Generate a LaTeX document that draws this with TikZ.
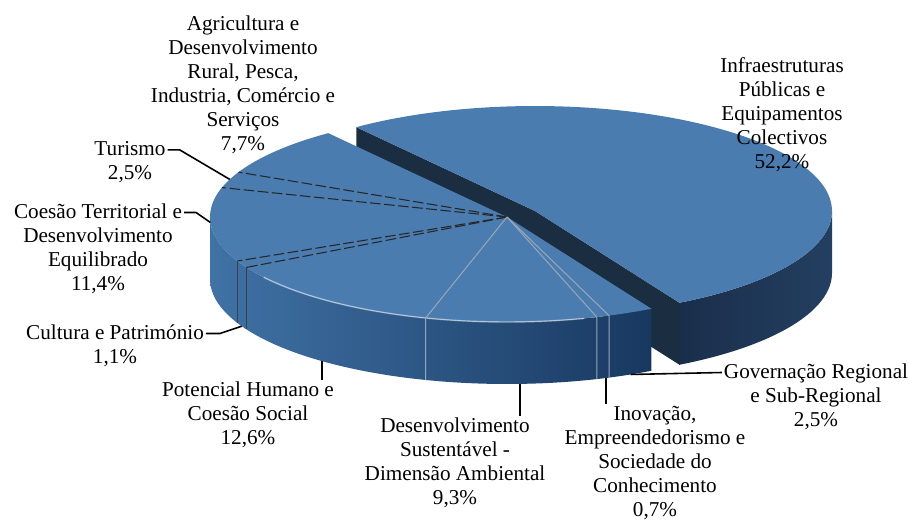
\documentclass[tikz,border=0pt]{standalone}
\usepackage{fontspec}
\setmainfont{Liberation Serif}
\usetikzlibrary{calc}

\definecolor{topblue}{RGB}{74,124,176}
\definecolor{sidelight}{RGB}{64,114,166}
\definecolor{sidedark}{RGB}{24,56,96}
\definecolor{bigside}{RGB}{26,46,74}
\definecolor{cutface}{RGB}{27,45,64}
\definecolor{seam}{RGB}{150,166,182}

\tikzset{
  lbl/.style={align=center, inner sep=1pt, font=\fontsize{12}{13.6}\selectfont},
  leader/.style={draw, line width=0.9pt},
  seamdash/.style={dash pattern=on 6pt off 2pt, line width=0.6pt, black!85},
  seamline/.style={seam, line width=0.6pt},
}

\begin{document}
\begin{tikzpicture}[x=0.5666pt, y=-0.5666pt]
\useasboundingbox (0,0) rectangle (909,523);
\def\cx{507}\def\cy{217}\def\rx{297}\def\ry{105}\def\h{62}
\def\ox{28}\def\oy{-6}

%centres of the two pieces
\coordinate (apex) at (\cx,\cy);
\coordinate (apexb) at (\cx+\ox,\cy+\oy);
\coordinate (bigul) at ({\cx+\ox+\rx*cos(127)},{\cy+\oy-\ry*sin(127)});
\coordinate (biglr) at ({\cx+\ox+\rx*cos(299.1)},{\cy+\oy-\ry*sin(299.1)});

%exploded slice: side, cut faces, top
\shade[left color=bigside, right color=bigside!75!sidelight]
  plot[domain=299.1:360, samples=40] ({\cx+\ox+\rx*cos(\x)},{\cy+\oy-\ry*sin(\x)})
  -- plot[domain=360:299.1, samples=40] ({\cx+\ox+\rx*cos(\x)},{\cy+\oy+\h-\ry*sin(\x)}) -- cycle;
\fill[cutface] (bigul) -- (apexb) -- (biglr) -- ++(0,\h) -- ($(apexb)+(0,\h)$) -- ($(bigul)+(0,\h)$) -- cycle;
\fill[topblue] (apexb) -- plot[domain=299.1:487, samples=100] ({\cx+\ox+\rx*cos(\x)},{\cy+\oy-\ry*sin(\x)}) -- cycle;

%small slices: side and top
\shade[left color=sidelight, right color=sidedark]
  plot[domain=180:299.1, samples=60] ({\cx+\rx*cos(\x)},{\cy-\ry*sin(\x)})
  -- plot[domain=299.1:180, samples=60] ({\cx+\rx*cos(\x)},{\cy+\h-\ry*sin(\x)}) -- cycle;
\fill[topblue] (apex) -- plot[domain=127:299.1, samples=100] ({\cx+\rx*cos(\x)},{\cy-\ry*sin(\x)}) -- cycle;
\draw[white, opacity=0.5, line width=0.8pt] plot[domain=215:285, samples=40] ({\cx+\rx*cos(\x)},{\cy-\ry*sin(\x)});

%seams between slices
\foreach \a in {154.7,163.7,204.8,208.7}
  \draw[seamdash] (apex) -- ({\cx+\rx*cos(\a)},{\cy-\ry*sin(\a)});
\foreach \a in {204.8,208.7}
  \draw[black!75, line width=0.6pt] ({\cx+\rx*cos(\a)},{\cy-\ry*sin(\a)}) -- ++(0,\h);
\foreach \a in {254.1,287.6,290.1}
  \draw[seamline] (apex) -- ({\cx+\rx*cos(\a)},{\cy-\ry*sin(\a)}) -- ++(0,\h);

%leader ends on the pie
\coordinate (tur-rim) at ({\cx+\rx*cos(159)},{\cy-\ry*sin(159)});
\coordinate (coe-rim) at ({\cx+\rx*cos(183)},{\cy-\ry*sin(183)});
\coordinate (cul-rim) at ({\cx+\rx*cos(206.7)},{\cy+\h-\ry*sin(206.7)});
\coordinate (pot-rim) at ({\cx+\rx*cos(231.4)},{\cy+\h-\ry*sin(231.4)});
\coordinate (des-rim) at ({\cx+\rx*cos(272.5)},{\cy+\h-\ry*sin(272.5)});
\coordinate (ino-rim) at ({\cx+\rx*cos(289.5)},{\cy+\h-\ry*sin(289.5)});
\coordinate (gov-rim) at ({\cx+\rx*cos(294.6)},{\cy+\h-\ry*sin(294.6)});

%labels
\node[lbl] (agr) at (243,85) {Agricultura e\\Desenvolvimento\\Rural, Pesca,\\Industria, Comércio e\\Serviços\\7,7\%};
\node[lbl] (inf) at (782,115) {Infraestruturas\\Públicas e\\Equipamentos\\Colectivos\\52,2\%};
\node[lbl] (tur) at (130,162) {Turismo\\2,5\%};
\node[lbl] (coe) at (98,249) {Coesão Territorial e\\Desenvolvimento\\Equilibrado\\11,4\%};
\node[lbl] (cul) at (115,346) {Cultura e Património\\1,1\%};
\node[lbl] (pot) at (248,415) {Potencial Humano e\\Coesão Social\\12,6\%};
\node[lbl] (des) at (455,463) {Desenvolvimento\\Sustentável -\\Dimensão Ambiental\\9,3\%};
\node[lbl] (ino) at (655,463) {Inovação,\\Empreendedorismo e\\Sociedade do\\Conhecimento\\0,7\%};
\node[lbl] (gov) at (816,397) {Governação Regional\\e Sub-Regional\\2,5\%};

%leaders
\draw[leader] ([yshift=-6pt]tur.north east) -- ++(12,0) -- (tur-rim);
\draw[leader] ([yshift=-6pt]coe.north east) -- ++(12,0) -- (coe-rim);
\draw[leader] ([yshift=-6pt]cul.north east) -- ++(14,0) -- (cul-rim);
\draw[leader] (pot-rim) -- (pot-rim |- pot.north);
\draw[leader] (des-rim) -- (des-rim |- des.north);
\draw[leader] (ino-rim) -- (ino-rim |- ino.north);
\draw[leader] (gov-rim) -- ([yshift=-6pt]gov.north west);

\end{tikzpicture}
\end{document}
